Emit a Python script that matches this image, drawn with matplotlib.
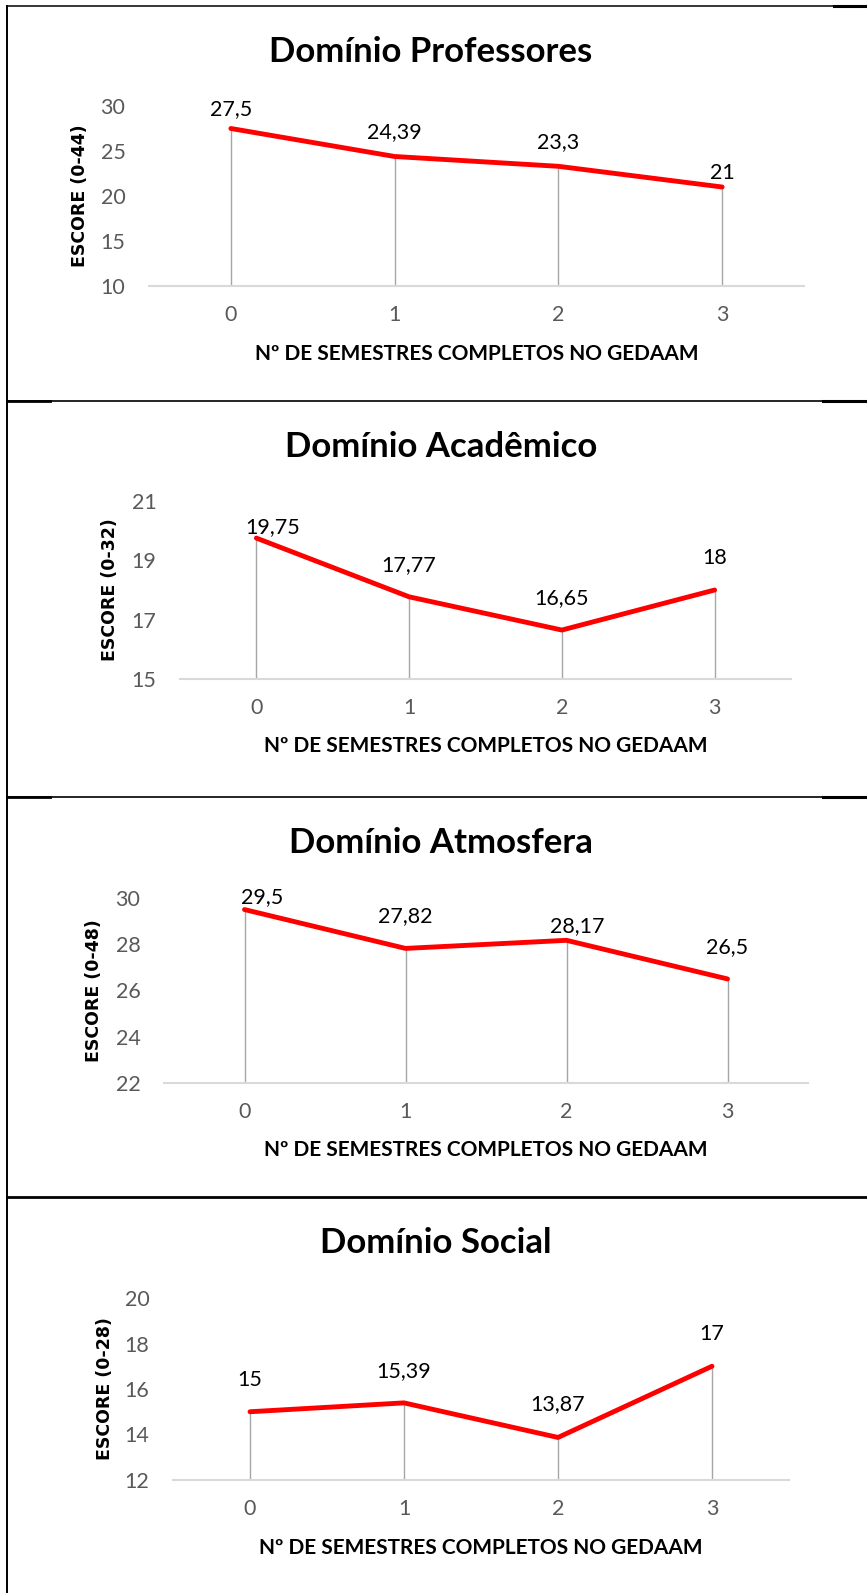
import numpy as np
import matplotlib
matplotlib.use("Agg")
import matplotlib.pyplot as plt
from matplotlib.lines import Line2D

# dados
semestres = [0, 1, 2, 3]
titulos = ["Domínio Professores", "Domínio Acadêmico", "Domínio Atmosfera", "Domínio Social"]
ylabels = ["ESCORE (0-44)", "ESCORE (0-32)", "ESCORE (0-48)", "ESCORE (0-28)"]
professores = [27.5, 24.39, 23.3, 21]
academico = [19.75, 17.77, 16.65, 18]
atmosfera = [29.5, 27.82, 28.17, 26.5]
social = [15, 15.39, 13.87, 17]
series = [professores, academico, atmosfera, social]
ylims = [(10, 30), (15, 21), (22, 30), (12, 20)]
ypassos = [5, 2, 2, 2]
xlabel = "Nº DE SEMESTRES COMPLETOS NO GEDAAM"

W, H = 867, 1593
# posicao dos eixos em pixels: esquerda, direita, topo, base
caixas = [(149, 804, 106, 286), (180, 791, 501, 679), (164, 808, 898, 1083), (173, 789, 1298, 1480)]
titulo_pos = [(431, 52), (441, 447), (441, 843), (436, 1243)]
ylabel_x = [80, 110, 94, 105]
# deslocamento dos rotulos (px)
desloc = [[(0, 19), (0, 24), (0, 24), (0, 14)],
          [(16, 11), (0, 32), (0, 32), (0, 32)],
          [(18, 12), (0, 32), (11, 14), (0, 32)],
          [(0, 32), (0, 32), (0, 33), (0, 32)]]

fonte = ["Lato", "DejaVu Sans"]
cinza = "#595959"

fig = plt.figure(figsize=(W / 100, H / 100), dpi=100)

def fx(px):
    return px / W

def fy(py):
    return 1 - py / H

for i in range(4):
    l, r, t, b = caixas[i]
    ax = fig.add_axes([fx(l), fy(b), fx(r) - fx(l), fy(t) - fy(b)])
    y = series[i]
    ax.vlines(semestres, ylims[i][0], y, color="#A6A6A6", lw=1.0, zorder=1)
    ax.plot(semestres, y, color="#FF0000", lw=3.5, solid_capstyle="round", zorder=3)
    for j, v in enumerate(y):
        txt = "{:g}".format(v).replace(".", ",")
        ax.annotate(txt, (semestres[j], v), xytext=desloc[i][j], textcoords="offset pixels",
                    ha="center", va="center", fontsize=15.5, family=fonte, color="black")
    ax.set_xlim(-0.5, 3.5)
    ax.set_ylim(*ylims[i])
    ax.set_xticks(semestres)
    ax.set_yticks(np.arange(ylims[i][0], ylims[i][1] + 0.1, ypassos[i]))
    ax.tick_params(length=0, labelsize=15.5, labelcolor=cinza)
    ax.tick_params(axis="x", pad=14)
    ax.tick_params(axis="y", pad=17)
    for lab in ax.get_xticklabels() + ax.get_yticklabels():
        lab.set_family(fonte)
    for s in ["top", "right", "left"]:
        ax.spines[s].set_visible(False)
    ax.spines["bottom"].set_color("#D9D9D9")
    ax.spines["bottom"].set_linewidth(1.5)
    ax.set_xlabel(xlabel, fontsize=15, fontweight="bold", family=fonte, labelpad=13)
    ax.patch.set_alpha(0)

    fig.text(fx(titulo_pos[i][0]), fy(titulo_pos[i][1]), titulos[i], ha="center", va="center",
             fontsize=25, fontweight="bold", family=fonte)
    fig.text(fx(ylabel_x[i]), fy((t + b) / 2), ylabels[i], rotation=90, ha="center", va="center",
             fontsize=12.5, fontweight="bold", family="DejaVu Sans")

# bordas da tabela
def linha(x0, x1, y0, y1, lw):
    fig.add_artist(Line2D([fx(x0), fx(x1)], [fy(y0), fy(y1)], color="black", lw=lw))

linha(7, 834, 6, 6, 1.1)
linha(834, 867, 6, 6, 2.2)
linha(7, 7, 6, H, 1.4)
for ys in [401, 797]:
    linha(7, 823, ys, ys, 1.2)
    linha(7, 50, ys, ys, 2.0)
    linha(823, 867, ys, ys, 2.2)
linha(7, 867, 1197, 1197, 2.0)

fig.savefig("out.png", dpi=100)
